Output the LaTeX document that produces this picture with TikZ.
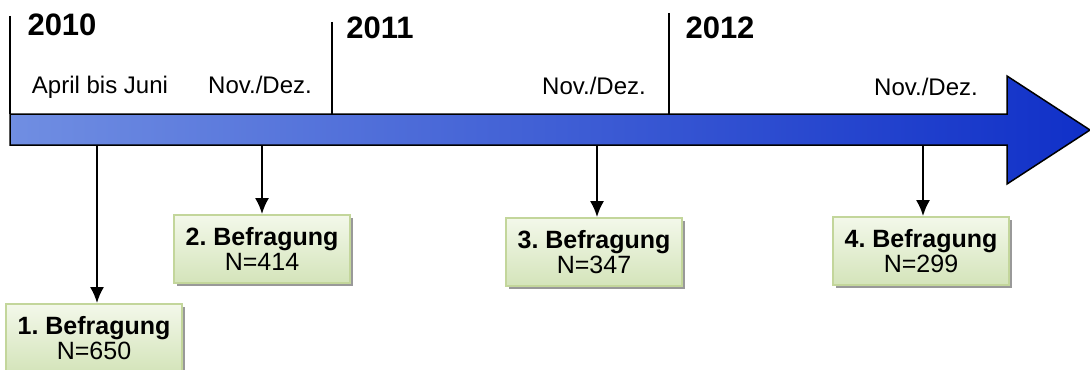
\documentclass[tikz,border=0pt]{standalone}
\usepackage{fontspec}
\setmainfont{Liberation Sans}
\usetikzlibrary{arrows.meta,shadows}
\frenchspacing

\definecolor{arrowleft}{RGB}{112,142,226}
\definecolor{arrowright}{RGB}{16,48,200}
\definecolor{boxline}{RGB}{195,214,155}
\definecolor{boxtop}{RGB}{243,248,234}
\definecolor{boxbottom}{RGB}{212,228,186}

\begin{document}
\begin{tikzpicture}[x=0.5pt,y=-0.5pt,>={Latex[length=8pt,width=7pt]}]
  \tikzstyle{year}=[font=\bfseries\fontsize{15.5}{18}\selectfont]
  \tikzstyle{month}=[font=\fontsize{12}{14}\selectfont,anchor=base]
  \tikzstyle{divider}=[line width=0.75pt]
  \tikzstyle{survey}=[rectangle,draw=boxline,line width=0.8pt,top color=boxtop,bottom color=boxbottom,
    minimum width=88pt,minimum height=34pt,align=center,inner sep=0pt,
    font=\fontsize{12.5}{12.5}\selectfont,
    drop shadow={shadow xshift=1.5pt,shadow yshift=-1.5pt,fill=black!50,opacity=0.8}]

\useasboundingbox (0,0) rectangle (1090,369);

% timeline
\draw [line width=0.75pt,left color=arrowleft,right color=arrowright]
  (10,114) -- (1007,114) -- (1007,76) -- (1090,130) -- (1007,184) -- (1007,145) -- (10,145) -- cycle;

\draw [divider] (10,16) -- (10,114);
\draw [divider] (332,22) -- (332,114);
\draw [divider] (669,13) -- (669,114);

\node [year] (y10) at (62,25) {2010};
\node [year] (y11) at (380,28) {2011};
\node [year] (y12) at (720,28) {2012};

\node [month] (m1) at (100,93) {April bis Juni};
\node [month] (m2) at (260,94) {Nov./Dez.};
\node [month] (m3) at (594,95) {Nov./Dez.};
\node [month] (m4) at (926,96) {Nov./Dez.};

% surveys
\node [survey] (b1) at (94,338) {\textbf{1. Befragung}\\N=650};
\node [survey] (b2) at (262,249) {\textbf{2. Befragung}\\N=414};
\node [survey] (b3) at (594,252) {\textbf{3. Befragung}\\N=347};
\node [survey] (b4) at (921,251) {\textbf{4. Befragung}\\N=299};

\coordinate (p1) at (97,145);
\coordinate (p2) at (262,145);
\coordinate (p3) at (597,145);
\coordinate (p4) at (923,145);
\draw [->,line width=1.2pt] (p1) -- (p1 |- b1.north);
\draw [->,line width=1.2pt] (p2) -- (p2 |- b2.north);
\draw [->,line width=1.2pt] (p3) -- (p3 |- b3.north);
\draw [->,line width=1.2pt] (p4) -- (p4 |- b4.north);
\end{tikzpicture}
\end{document}
